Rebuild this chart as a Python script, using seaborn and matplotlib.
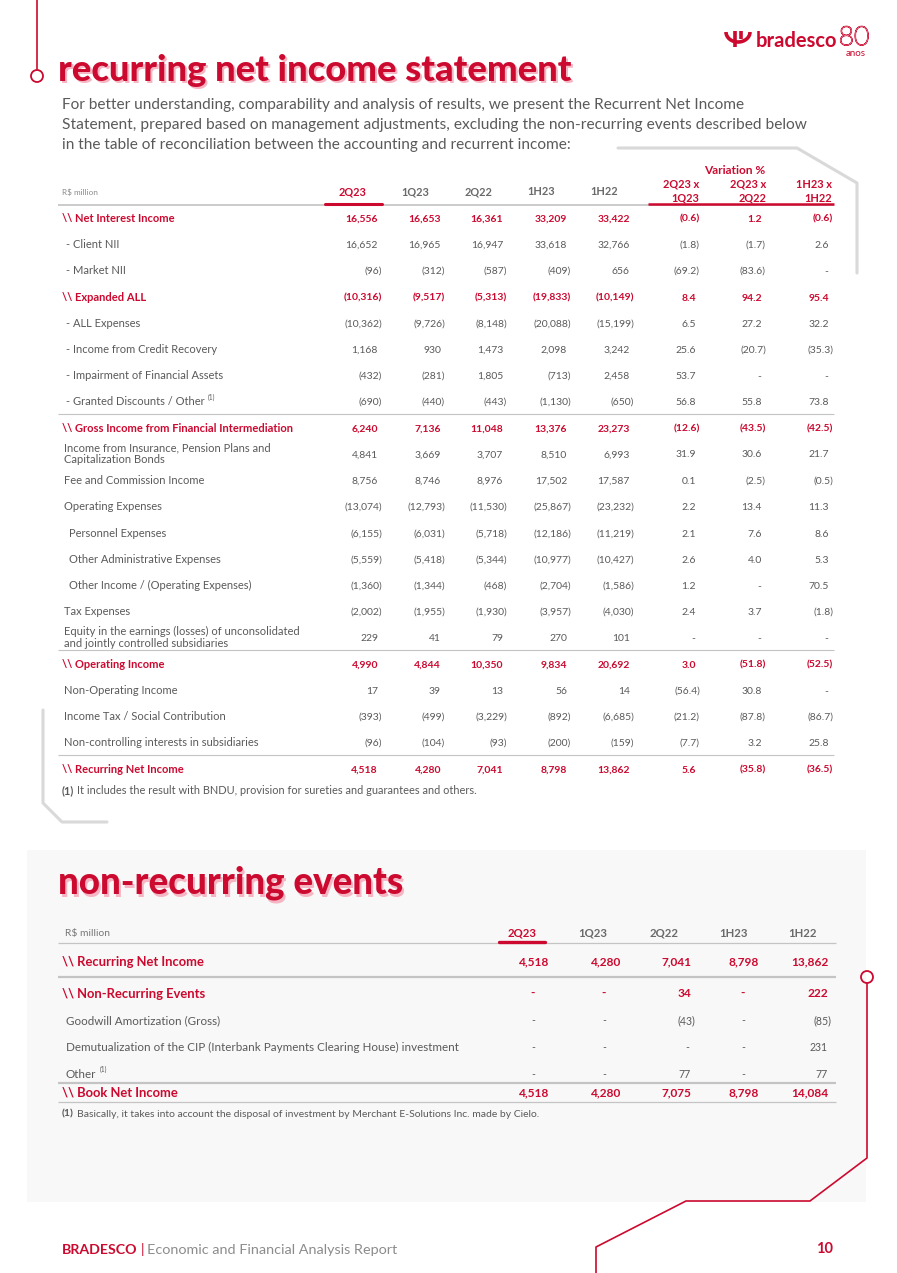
import matplotlib
matplotlib.use("Agg")
import matplotlib.pyplot as plt
import matplotlib.patheffects as pe
from matplotlib.patches import Rectangle, Circle, Arc
import pandas as pd
import seaborn as sns

# ---------------- data ----------------
top_periods = ["2Q23", "1Q23", "2Q22", "1H23", "1H22"]
var_head_1 = ["2Q23 x", "2Q23 x", "1H23 x"]
var_head_2 = ["1Q23", "2Q22", "1H22"]

top_labels = [
    "\\\\ Net Interest Income", "- Client NII", "- Market NII",
    "\\\\ Expanded ALL", "- ALL Expenses", "- Income from Credit Recovery",
    "- Impairment of Financial Assets", "- Granted Discounts / Other",
    "\\\\ Gross Income from Financial Intermediation",
    "Income from Insurance, Pension Plans and\nCapitalization Bonds",
    "Fee and Commission Income", "Operating Expenses",
    "Personnel Expenses", "Other Administrative Expenses",
    "Other Income / (Operating Expenses)", "Tax Expenses",
    "Equity in the earnings (losses) of unconsolidated\nand jointly controlled subsidiaries",
    "\\\\ Operating Income", "Non-Operating Income",
    "Income Tax / Social Contribution", "Non-controlling interests in subsidiaries",
    "\\\\ Recurring Net Income",
]
top_bold = [True, False, False, True, False, False, False, False, True, False,
            False, False, False, False, False, False, False, True, False, False,
            False, True]
top_note = [False] * 7 + [True] + [False] * 14

v_2Q23 = [16556, 16652, -96, -10316, -10362, 1168, -432, -690, 6240, 4841, 8756,
          -13074, -6155, -5559, -1360, -2002, 229, 4990, 17, -393, -96, 4518]
v_1Q23 = [16653, 16965, -312, -9517, -9726, 930, -281, -440, 7136, 3669, 8746,
          -12793, -6031, -5418, -1344, -1955, 41, 4844, 39, -499, -104, 4280]
v_2Q22 = [16361, 16947, -587, -5313, -8148, 1473, 1805, -443, 11048, 3707, 8976,
          -11530, -5718, -5344, -468, -1930, 79, 10350, 13, -3229, -93, 7041]
v_1H23 = [33209, 33618, -409, -19833, -20088, 2098, -713, -1130, 13376, 8510, 17502,
          -25867, -12186, -10977, -2704, -3957, 270, 9834, 56, -892, -200, 8798]
v_1H22 = [33422, 32766, 656, -10149, -15199, 3242, 2458, -650, 23273, 6993, 17587,
          -23232, -11219, -10427, -1586, -4030, 101, 20692, 14, -6685, -159, 13862]
var_q_q = [-0.6, -1.8, -69.2, 8.4, 6.5, 25.6, 53.7, 56.8, -12.6, 31.9, 0.1, 2.2,
           2.1, 2.6, 1.2, 2.4, None, 3.0, -56.4, -21.2, -7.7, 5.6]
var_q_y = [1.2, -1.7, -83.6, 94.2, 27.2, -20.7, None, 55.8, -43.5, 30.6, -2.5, 13.4,
           7.6, 4.0, None, 3.7, None, -51.8, 30.8, -87.8, 3.2, -35.8]
var_h_h = [-0.6, 2.6, None, 95.4, 32.2, -35.3, None, 73.8, -42.5, 21.7, -0.5, 11.3,
           8.6, 5.3, 70.5, -1.8, None, -52.5, None, -86.7, 25.8, -36.5]

low_periods = ["2Q23", "1Q23", "2Q22", "1H23", "1H22"]
low_labels = ["\\\\ Recurring Net Income", "\\\\ Non-Recurring Events",
              "Goodwill Amortization (Gross)",
              "Demutualization of the CIP (Interbank Payments Clearing House) investment",
              "Other", "\\\\ Book Net Income"]
low_bold = [True, True, False, False, False, True]
low_note = [False, False, False, False, True, False]
low_2Q23 = [4518, None, None, None, None, 4518]
low_1Q23 = [4280, None, None, None, None, 4280]
low_2Q22 = [7041, 34, -43, None, 77, 7075]
low_1H23 = [8798, None, None, None, None, 8798]
low_1H22 = [13862, 222, -85, 231, 77, 14084]

top_df = pd.DataFrame({"label": top_labels, "bold": top_bold, "note": top_note,
                       "2Q23": v_2Q23, "1Q23": v_1Q23, "2Q22": v_2Q22,
                       "1H23": v_1H23, "1H22": v_1H22,
                       "v1": var_q_q, "v2": var_q_y, "v3": var_h_h}).astype(object)
low_df = pd.DataFrame({"label": low_labels, "bold": low_bold, "note": low_note,
                       "2Q23": low_2Q23, "1Q23": low_1Q23, "2Q22": low_2Q22,
                       "1H23": low_1H23, "1H22": low_1H22}).astype(object)

# ---------------- style ----------------
sns.set_theme(style="white")
plt.rcParams['font.family'] = ['Lato', 'DejaVu Sans']

RED = '#CC092F'
PINK = '#F5B5C2'
TXT = '#5a5a5a'
HEAD = '#6a6a6a'
LINE = '#c4c4c4'
DECO = '#d9d9d9'

fig = plt.figure(figsize=(8.97, 12.73), dpi=100)
fig.patch.set_facecolor('white')
ax = fig.add_axes([0, 0, 1, 1])
ax.set_xlim(0, 897)
ax.set_ylim(1273, 0)
ax.axis('off')
renderer = fig.canvas.get_renderer()


def wid(t):
    return t.get_window_extent(renderer=renderer).width


def fit(x, y, s, w, size0, **kw):
    t = ax.text(x, y, s, fontsize=size0, **kw)
    t.set_fontsize(size0 * w / wid(t))
    return t


def fmt_int(v):
    if v is None or (isinstance(v, float) and pd.isna(v)):
        return '-'
    return f"({abs(int(v)):,})" if v < 0 else f"{int(v):,}"


def fmt_pct(v):
    if v is None or (isinstance(v, float) and pd.isna(v)):
        return '-'
    return f"({abs(v):.1f})" if v < 0 else f"{v:.1f}"


def btxt(x, yc, s, size, **kw):
    """Text whose cap-height middle sits at yc (baseline aligned)."""
    return ax.text(x, yc + size * 0.5, s, fontsize=size, va='baseline', **kw)


def put_value(x_right, y, s, size, color, weight, dash_off=3, paren=4):
    if s == '-':
        btxt(x_right - dash_off, y, s, size, ha='center', color=color, fontweight=weight)
    elif s.startswith('('):
        btxt(x_right + paren, y, s, size, ha='right', color=color, fontweight=weight)
    else:
        btxt(x_right, y, s, size, ha='right', color=color, fontweight=weight)


def hline(x0, x1, y, color=LINE, lw=0.8):
    ax.plot([x0, x1], [y, y], color=color, lw=lw, solid_capstyle='butt', zorder=2)


# ---------------- decorations ----------------
ax.add_patch(Rectangle((27, 850), 839, 352, facecolor='#f8f8f8', edgecolor='none', zorder=0))
ax.plot([37, 37], [0, 69], color=RED, lw=1.2, zorder=3)
ax.add_patch(Circle((37, 76), 6, fill=False, ec=RED, lw=1.3, zorder=3))
ax.plot([618, 797, 857, 857], [148, 148, 183, 273], color=DECO, lw=2.2, zorder=1)
ax.plot([43, 43, 62, 107], [710, 803, 822, 822], color=DECO, lw=2.2, zorder=1)
ax.add_patch(Circle((867, 977), 6, fill=False, ec=RED, lw=1.3, zorder=3))
ax.plot([867, 867, 810, 686, 596, 596], [983, 1158, 1201, 1201, 1247, 1273],
        color=RED, lw=1.2, zorder=3)

# logo
ax.add_patch(Arc((738, 32), 24, 20, theta1=0, theta2=180, color=RED, lw=2.6, zorder=3))
ax.plot([734.5, 734.5], [31, 47], color=RED, lw=2.6, solid_capstyle='butt', zorder=3)
ax.plot([741, 741], [31, 39], color=RED, lw=2.6, solid_capstyle='butt', zorder=3)
fit(756, 47, "bradesco", 82, 14, fontweight='bold', color=RED, ha='left', va='baseline')
t80 = ax.text(854, 45, "80", fontsize=19, color='white', ha='center', va='baseline',
              fontweight='light')
t80.set_path_effects([pe.Stroke(linewidth=0.9, foreground=RED), pe.Normal()])
ax.text(856, 56, "anos", fontsize=7, color=RED, ha='center', va='baseline')

# ---------------- section 1 ----------------
for dx, dy, col in [(1.8, 2.2, PINK), (0, 0, RED)]:
    fit(58 + dx, 81 + dy, "recurring net income statement", 514, 24,
        fontweight='black', color=col, va='baseline', zorder=4 if col == RED else 3)

para = ["For better understanding, comparability and analysis of results, we present the Recurrent Net Income",
        "Statement, prepared based on management adjustments, excluding the non-recurring events described below",
        "in the table of reconciliation between the accounting and recurrent income:"]
para_w = [684, 747, 508]
for i, (s, w) in enumerate(zip(para, para_w)):
    fit(62, 109 + 20 * i, s, w, 11, color=TXT, va='baseline')

# header
btxt(62, 192, "R$ million", 5.9, color='#8a8a8a')
head_cx = [352, 415, 478, 541, 604]
for i, (p, cx) in enumerate(zip(top_periods, head_cx)):
    btxt(cx, 191.5, p, 7.9, ha='center', fontweight='bold',
         color=RED if i == 0 else HEAD)
btxt(735, 170, "Variation %", 8.6, ha='center', fontweight='bold', color=RED)
var_hr = [699, 766, 832]
for a, b, xr in zip(var_head_1, var_head_2, var_hr):
    btxt(xr, 184, a, 7.9, ha='right', fontweight='bold', color=RED)
    btxt(xr, 198, b, 7.9, ha='right', fontweight='bold', color=RED)
hline(58, 834, 204.5, color='#bdbdbd', lw=1.1)
ax.plot([325, 382], [203.5, 203.5], color=RED, lw=2.2, solid_capstyle='round', zorder=3)
ax.plot([648, 834], [203.5, 203.5], color=RED, lw=1.8, solid_capstyle='butt', zorder=3)

top_y = [218, 244, 270, 297, 323, 349, 375, 401, 428, 453.5, 480, 506, 533, 559,
         585, 611, 637.5, 664, 690, 716, 742, 769]
top_lx = [62, 66, 66, 62, 66, 66, 66, 66, 62, 64, 64, 64, 69, 69, 69, 64, 64, 62,
          64, 64, 64, 62]
top_xr = [378, 441, 503, 567, 630, 696, 762, 829]
num_cols = ["2Q23", "1Q23", "2Q22", "1H23", "1H22"]
pct_cols = ["v1", "v2", "v3"]
FS_LAB = 8.0
FS_VAL = 7.5
for i, row in top_df.iterrows():
    y = top_y[i]
    bold = bool(row["bold"])
    col = RED if bold else TXT
    w = 'bold' if bold else 'normal'
    if "\n" in row["label"]:
        t = ax.text(top_lx[i], y, row["label"], va='center', fontsize=FS_LAB, color=col,
                    fontweight=w, linespacing=1.05)
    else:
        t = btxt(top_lx[i], y, row["label"], FS_LAB, color=col, fontweight=w)
    if row["note"]:
        ax.text(top_lx[i] + wid(t) + 3, y - 4, "(1)", va='center', fontsize=4.8,
                color=TXT)
    for j, c in enumerate(num_cols):
        put_value(top_xr[j], y, fmt_int(row[c]), FS_VAL, col, w)
    for j, c in enumerate(pct_cols):
        put_value(top_xr[5 + j], y, fmt_pct(row[c]), FS_VAL, col, w)

for yy in [414, 650, 755]:
    hline(58, 834, yy)
t = btxt(62, 790, "(1)", 7.9, color=TXT, fontweight='bold')
btxt(62 + wid(t) + 3, 790,
     "It includes the result with BNDU, provision for sureties and guarantees and others.",
     7.9, color=TXT)

# ---------------- section 2 ----------------
for dx, dy, col in [(1.8, 2.2, PINK), (0, 0, RED)]:
    fit(58 + dx, 894 + dy, "non-recurring events", 346, 24,
        fontweight='black', color=col, va='baseline', zorder=4 if col == RED else 3)

btxt(65, 932.5, "R$ million", 7.4, color='#777777')
low_cx = [522, 593, 664, 733, 802]
for i, (p, cx) in enumerate(zip(low_periods, low_cx)):
    btxt(cx, 932.5, p, 8.2, ha='center', fontweight='bold',
         color=RED if i == 0 else HEAD)
hline(58, 836, 943, color='#c4c4c4', lw=0.9)
ax.plot([499, 545], [941.5, 941.5], color=RED, lw=2.4, solid_capstyle='round', zorder=3)
hline(58, 836, 977, color='#c4c4c4', lw=1.6)
hline(58, 836, 1083, color='#c4c4c4', lw=1.6)
hline(58, 836, 1102, color='#c4c4c4', lw=0.9)

low_y = [961, 993, 1020, 1047, 1074, 1092]
low_lx = [62, 62, 66, 66, 66, 62]
low_xr = [549, 621, 691, 759, 828]
low_dash = [16, 17, 4, 16, 4]
for i, row in low_df.iterrows():
    y = low_y[i]
    bold = bool(row["bold"])
    col = RED if bold else TXT
    w = 'bold' if bold else 'normal'
    fs_l = 9.4 if bold else 8.4
    fs_v = 8.6 if bold else 7.6
    t = btxt(low_lx[i], y, row["label"], fs_l, color=col, fontweight=w)
    if row["note"]:
        ax.text(low_lx[i] + wid(t) + 3, y - 5, "(1)", va='center', fontsize=4.8,
                color=TXT)
    for j, c in enumerate(low_periods):
        put_value(low_xr[j], y, fmt_int(row[c]), fs_v, col, w, dash_off=low_dash[j])

t = btxt(62, 1113, "(1)", 7.5, color=TXT, fontweight='bold')
btxt(62 + wid(t) + 3, 1113,
     "Basically, it takes into account the disposal of investment by Merchant E-Solutions Inc. made by Cielo.",
     7.5, color=TXT)

# ---------------- footer ----------------
t1 = btxt(62, 1249, "BRADESCO", 10.2, fontweight='bold', color=RED)
x1 = 62 + wid(t1) + 3
t2 = btxt(x1, 1249, "|", 10.2, color=RED)
x2 = x1 + wid(t2) + 3
btxt(x2, 1249, "Economic and Financial Analysis Report", 10.4, color='#8c8c8c')
btxt(833, 1248, "10", 10.5, fontweight='bold', color=RED, ha='right')

fig.savefig("out.png", dpi=100, facecolor='white')
